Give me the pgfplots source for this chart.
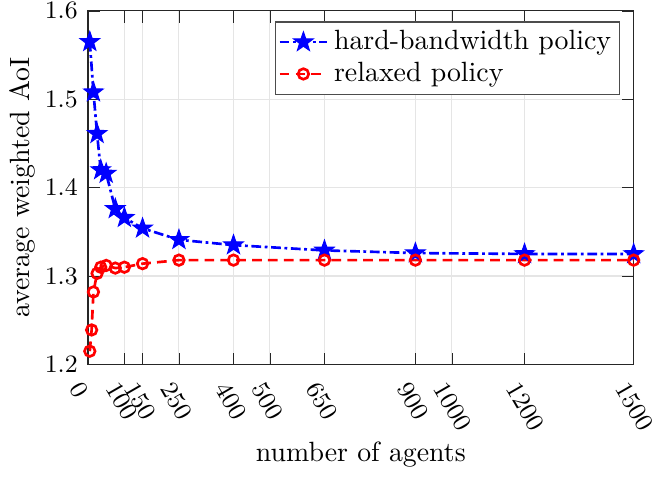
\documentclass[border=0pt]{standalone}
\usepackage{pgfplots}
\pgfplotsset{compat=1.18}
\pgfdeclareplotmark{fstar}{%
  \pgfpathmoveto{\pgfpointpolar{90}{1.25\pgfplotmarksize}}%
  \pgfpathlineto{\pgfpointpolar{126}{0.5\pgfplotmarksize}}%
  \pgfpathlineto{\pgfpointpolar{162}{1.25\pgfplotmarksize}}%
  \pgfpathlineto{\pgfpointpolar{198}{0.5\pgfplotmarksize}}%
  \pgfpathlineto{\pgfpointpolar{234}{1.25\pgfplotmarksize}}%
  \pgfpathlineto{\pgfpointpolar{270}{0.5\pgfplotmarksize}}%
  \pgfpathlineto{\pgfpointpolar{306}{1.25\pgfplotmarksize}}%
  \pgfpathlineto{\pgfpointpolar{342}{0.5\pgfplotmarksize}}%
  \pgfpathlineto{\pgfpointpolar{18}{1.25\pgfplotmarksize}}%
  \pgfpathlineto{\pgfpointpolar{54}{0.5\pgfplotmarksize}}%
  \pgfpathclose
  \pgfusepathqfillstroke
}
\begin{document}
\begin{tikzpicture}
\begin{axis}[
  scale only axis,
  width=196pt, height=127pt,
  xmin=0, xmax=1500, ymin=1.2, ymax=1.6,
  xtick={0,100,150,250,400,500,650,900,1000,1200,1500},
  ytick={1.2,1.3,1.4,1.5,1.6},
  xticklabel style={/pgf/number format/1000 sep={}, font=\fontsize{8.7}{10}\selectfont, yshift=-4pt, xshift=-1.5pt, rotate=-60, anchor=north west, inner sep=1pt},
  yticklabel style={/pgf/number format/fixed, /pgf/number format/precision=1, /pgf/number format/fixed zerofill, font=\fontsize{8.7}{10}\selectfont, inner sep=1pt, xshift=-2.5pt},
  grid=major,
  major grid style={gray!20},
  axis line style={black!85},
  tick style={black!85},
  xlabel={number of agents},
  ylabel={average weighted AoI},
  xlabel style={yshift=1.5pt},
  ylabel shift=-1pt,
  legend style={at={(0.975,0.97)}, anchor=north east, draw=black!70, inner sep=1pt, row sep=-1pt},
  legend cell align=left,
]
\addplot[blue, line width=0.95pt, dash pattern=on 3.5pt off 1.3pt on 1pt off 1.3pt, mark=fstar, mark size=2.9pt, mark options={solid, fill=blue, line width=0.4pt}]
coordinates {(5,1.565)(15,1.508)(25,1.461)(35,1.420)(50,1.416)(75,1.376)(100,1.366)(150,1.354)(250,1.341)(400,1.335)(650,1.329)(900,1.326)(1200,1.325)(1500,1.325)};
\addlegendentry{hard-bandwidth policy}
\addplot[red, line width=0.95pt, dash pattern=on 3.5pt off 2.2pt, mark=o, mark size=1.9pt, mark options={solid, line width=0.95pt}]
coordinates {(5,1.215)(10,1.239)(15,1.282)(25,1.303)(35,1.310)(50,1.312)(75,1.309)(100,1.310)(150,1.314)(250,1.318)(400,1.318)(650,1.318)(900,1.318)(1200,1.318)(1500,1.318)};
\addlegendentry{relaxed policy}
\end{axis}
\path (current axis.outer east) ++(1.5pt,0);
\end{tikzpicture}
\end{document}
